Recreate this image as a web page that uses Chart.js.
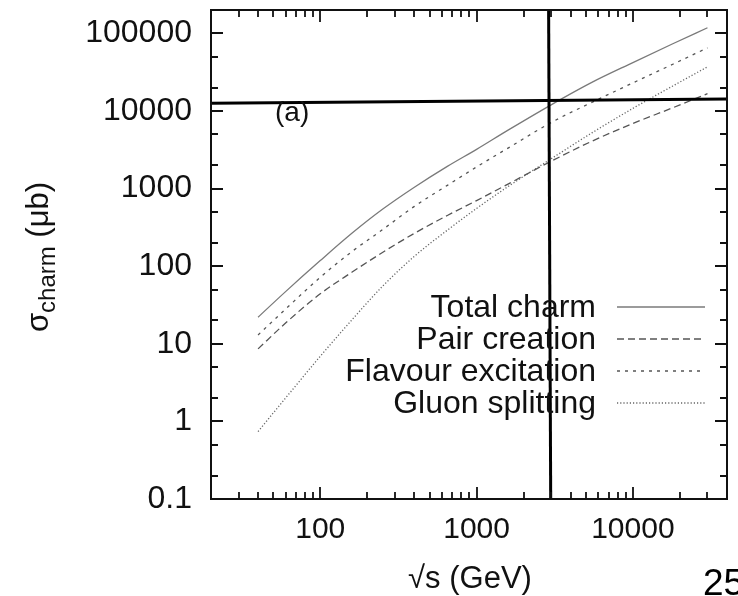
<!DOCTYPE html>
<html>
<head>
<meta charset="utf-8">
<script src="https://cdn.jsdelivr.net/npm/chart.js@4/dist/chart.umd.min.js"></script>
<style>
  html, body { margin: 0; padding: 0; background: #fff; }
</style>
</head>
<body>
<canvas id="c" width="738" height="596"></canvas>
<script>
// sqrt(s) in GeV
const energies = [40, 60, 100, 160, 250, 400, 650, 1000, 1600, 3000, 5500, 10000, 18000, 30000];
// cross sections in microbarn
const totalCharm = [22, 47, 118, 267, 540, 1040, 1930, 3200, 5700, 12000, 23500, 42000, 73500, 118000];
const pairCreation = [8.6, 18.5, 44, 84, 150, 265, 450, 700, 1150, 2250, 4100, 6900, 11000, 16700];
const flavourExcitation = [13, 28, 72, 155, 295, 590, 1100, 1900, 3350, 7100, 13000, 23000, 40000, 65000];
const gluonSplitting = [0.74, 2.0, 6.9, 20.5, 55, 134, 291, 555, 1070, 2420, 5260, 10800, 21000, 37000];
const seriesNames = ['Total charm', 'Pair creation', 'Flavour excitation', 'Gluon splitting'];

const xTickValues = [100, 1000, 10000];
const yTickValues = [0.1, 1, 10, 100, 1000, 10000, 100000];

// the two thick hand drawn marker lines
const hLineX = [20, 40000];
const hLineY = [12600, 14300];
const vLineX = [2890, 2980];
const vLineY = [200000, 0.1];

const FONT = '"Liberation Sans", Arial, Helvetica, sans-serif';
const ink = '#111';

function pts(xs, ys) {
  return xs.map((v, i) => ({ x: v, y: ys[i] }));
}

function curve(label, values, color, dash) {
  return {
    label: label,
    data: pts(energies, values),
    borderColor: color,
    borderWidth: 1.3,
    borderDash: dash,
    pointRadius: 0,
    fill: false,
    cubicInterpolationMode: 'monotone',
    order: 2
  };
}

const overlay = {
  id: 'overlay',
  afterDatasetsDraw(chart) {
    const { ctx, chartArea: a, scales: { x, y } } = chart;
    ctx.save();

    // frame
    ctx.strokeStyle = ink;
    ctx.lineWidth = 2;
    ctx.strokeRect(a.left, a.top, a.right - a.left, a.bottom - a.top);

    // inward tick marks on all sides
    ctx.lineWidth = 1.8;
    ctx.beginPath();
    for (let d = 1; d <= 4; d++) {
      for (let m = 1; m <= 9; m++) {
        const v = m * Math.pow(10, d);
        if (v <= x.min || v >= x.max) continue;
        const px = Math.round(x.getPixelForValue(v));
        const len = m === 1 ? 12 : 7;
        ctx.moveTo(px, a.bottom); ctx.lineTo(px, a.bottom - len);
        ctx.moveTo(px, a.top); ctx.lineTo(px, a.top + len);
      }
    }
    for (let d = -1; d <= 5; d++) {
      for (const m of [1, 2, 5]) {
        const v = m * Math.pow(10, d);
        if (v <= y.min || v >= y.max) continue;
        const py = Math.round(y.getPixelForValue(v));
        const len = m === 1 ? 12 : 7;
        ctx.moveTo(a.left, py); ctx.lineTo(a.left + len, py);
        ctx.moveTo(a.right, py); ctx.lineTo(a.right - len, py);
      }
    }
    ctx.stroke();

    // legend: text right aligned, sample line on the right
    const rows = [317, 349, 381, 413];
    ctx.font = '32px ' + FONT;
    ctx.textAlign = 'right';
    ctx.textBaseline = 'alphabetic';
    ctx.fillStyle = ink;
    seriesNames.forEach((name, i) => {
      const ds = chart.data.datasets[i];
      ctx.fillText(name, 596, rows[i]);
      ctx.save();
      ctx.strokeStyle = ds.borderColor;
      ctx.lineWidth = ds.borderWidth;
      ctx.setLineDash(ds.borderDash || []);
      ctx.beginPath();
      ctx.moveTo(617, rows[i] - 10);
      ctx.lineTo(705, rows[i] - 10);
      ctx.stroke();
      ctx.restore();
    });

    // panel label
    ctx.textAlign = 'left';
    ctx.font = '28px ' + FONT;
    ctx.fillText('(a)', 275, 121);
    ctx.restore();
  },
  afterDraw(chart) {
    const { ctx } = chart;
    ctx.save();
    ctx.fillStyle = ink;
    ctx.textBaseline = 'alphabetic';

    // x title
    ctx.textAlign = 'center';
    ctx.font = '31px ' + FONT;
    ctx.fillText('\u221As (GeV)', 470, 588);

    // y title with subscript
    ctx.translate(48, 257);
    ctx.rotate(-Math.PI / 2);
    ctx.textAlign = 'left';
    const big = '31px ' + FONT;
    const small = '24px ' + FONT;
    ctx.font = big;
    const w1 = ctx.measureText('\u03C3').width;
    const w3 = ctx.measureText(' (\u03BCb)').width;
    ctx.font = small;
    const w2 = ctx.measureText('charm').width;
    let tx = -(w1 + w2 + w3) / 2;
    ctx.font = big; ctx.fillText('\u03C3', tx, 0); tx += w1;
    ctx.font = small; ctx.fillText('charm', tx, 7); tx += w2;
    ctx.font = big; ctx.fillText(' (\u03BCb)', tx, 0);
    ctx.restore();

    // page number of the slide
    ctx.save();
    ctx.fillStyle = '#000';
    ctx.font = '37px ' + FONT;
    ctx.textAlign = 'left';
    ctx.fillText('25', 703, 595);
    ctx.restore();
  }
};

new Chart(document.getElementById('c'), {
  type: 'line',
  data: {
    datasets: [
      curve(seriesNames[0], totalCharm, '#7a7a7a', []),
      curve(seriesNames[1], pairCreation, '#555', [7, 4]),
      curve(seriesNames[2], flavourExcitation, '#555', [3, 5]),
      curve(seriesNames[3], gluonSplitting, '#666', [1.2, 2]),
      { data: pts(hLineX, hLineY), borderColor: '#000', borderWidth: 3, pointRadius: 0, order: 1 },
      { data: pts(vLineX, vLineY), borderColor: '#000', borderWidth: 3, pointRadius: 0, order: 1 }
    ]
  },
  options: {
    responsive: false,
    animation: false,
    devicePixelRatio: 1,
    layout: { padding: { left: 0, right: 11, top: 10, bottom: 0 } },
    plugins: { legend: { display: false }, tooltip: { enabled: false } },
    scales: {
      x: {
        type: 'logarithmic',
        min: 20,
        max: 40000,
        grid: { display: false, drawTicks: false },
        border: { display: false },
        afterBuildTicks: s => { s.ticks = xTickValues.map(v => ({ value: v })); },
        afterFit: s => { s.height = 97; s.paddingLeft = 0; s.paddingRight = 0; },
        ticks: {
          autoSkip: false,
          maxRotation: 0,
          padding: 13,
          color: ink,
          font: { family: FONT, size: 30 },
          callback: v => String(v)
        }
      },
      y: {
        type: 'logarithmic',
        min: 0.1,
        max: 200000,
        grid: { display: false, drawTicks: false },
        border: { display: false },
        afterBuildTicks: s => { s.ticks = yTickValues.map(v => ({ value: v })); },
        afterFit: s => { s.width = 211; s.paddingTop = 0; s.paddingBottom = 0; },
        ticks: {
          autoSkip: false,
          padding: 19,
          color: ink,
          font: { family: FONT, size: 32 },
          callback: v => String(v)
        }
      }
    }
  },
  plugins: [overlay]
});
</script>
</body>
</html>
